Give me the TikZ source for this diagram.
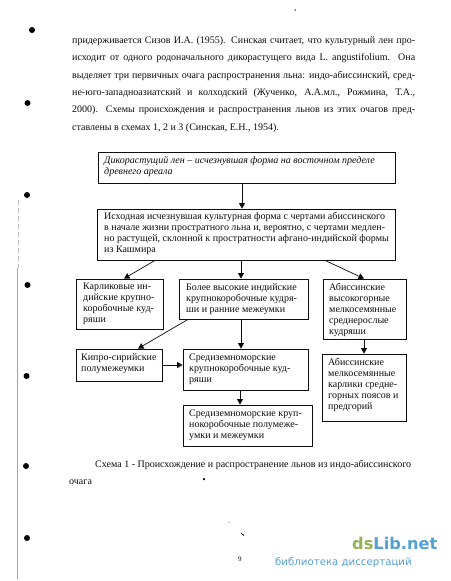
\documentclass[tikz,border=0pt]{standalone}
\usepackage{fontspec}
\setmainfont{Liberation Serif}
\newfontfamily\wmfont{DejaVu Sans}
\usetikzlibrary{calc,arrows.meta}
\definecolor{ink}{gray}{0.05}
\definecolor{wmgreen}{RGB}{146,178,84}
\definecolor{wmblue}{RGB}{85,160,210}
\tikzset{
  x=1pt,y=-1pt,
  flowbox/.style={draw=ink,line width=0.8pt,rectangle,minimum width=0pt,minimum height=0pt,inner sep=0pt},
  flowarrow/.style={draw=ink,line width=0.7pt,-{Triangle[length=5.5pt,width=6pt]}},
  boxtext/.style={anchor=north west,inner sep=0pt,align=left,text=ink,font=\fontsize{10}{11}\selectfont},
  bodyline/.style={anchor=base west,inner sep=0pt,text=ink,font=\fontsize{10}{11}\selectfont},
  dot/.style={fill=black,draw=none,circle,inner sep=0pt,minimum size=#1},
}
\newcommand{\jl}[1]{\makebox[343pt][s]{#1}}
\begin{document}
\begin{tikzpicture}
\useasboundingbox (0,0) rectangle (450,581);
\fill[white] (0,0) rectangle (450,581);
% body text
\node[bodyline] (l1) at (72,43.5) {\jl{придерживается Сизов И.А. (1955). Синская считает, что культурный лен про-}};
\node[bodyline] (l2) at (72,60.5) {\jl{исходит от одного родоначального дикорастущего вида L. angustifolium. Она}};
\node[bodyline] (l3) at (72,78) {\jl{выделяет три первичных очага распространения льна: индо-абиссинский, сред-}};
\node[bodyline] (l4) at (72,95) {\jl{не-юго-западноазиатский и колходский (Жученко, А.А.мл., Рожмина, Т.А.,}};
\node[bodyline] (l5) at (72,112) {\jl{2000). Схемы происхождения и распространения льнов из этих очагов пред-}};
\node[bodyline] (l6) at (72,130) {ставлены в схемах 1, 2 и 3 (Синская, Е.Н., 1954).};
% boxes
\node[flowbox,minimum width=297pt,minimum height=31pt] (b1) at (246.5,167.5) {};
\node[boxtext,font=\fontsize{10}{11}\selectfont\itshape] (t1) at (104,156.5) {Дикорастущий лен -- исчезнувшая форма на восточном пределе\\древнего ареала};
\node[flowbox,minimum width=298pt,minimum height=51pt] (b2) at (246.5,234.5) {};
\node[boxtext] (t2) at (104,212) {Исходная исчезнувшая культурная форма с чертами абиссинского\\в начале жизни простратного льна и, вероятно, с чертами медлен-\\но растущей, склонной к простратности афгано-индийской формы\\из Кашмира};
\node[flowbox,minimum width=87pt,minimum height=50pt] (b3) at (119.5,304) {};
\node[boxtext] (t3) at (83,283) {Карликовые ин-\\дийские крупно-\\коробочные куд-\\ряши};
\node[flowbox,minimum width=129pt,minimum height=40pt] (b4) at (243.5,299) {};
\node[boxtext] (t4) at (186,283) {Более высокие индийские\\крупнокоробочные кудря-\\ши и ранние межеумки};
\node[flowbox,minimum width=83pt,minimum height=60pt] (b5) at (364.5,309) {};
\node[boxtext] (t5) at (329,283) {Абиссинские\\высокогорные\\мелкосемянные\\среднерослые\\кудряши};
\node[flowbox,minimum width=86pt,minimum height=32pt] (b6) at (119,365) {};
\node[boxtext] (t6) at (81,353.5) {Кипро-сирийские\\полумежеумки};
\node[flowbox,minimum width=125pt,minimum height=41pt] (b7) at (245.5,369.5) {};
\node[boxtext] (t7) at (189,354) {Средиземноморские\\крупнокоробочные куд-\\ряши};
\node[flowbox,minimum width=129pt,minimum height=41pt] (b8) at (247.5,425.5) {};
\node[boxtext] (t8) at (189,409.5) {Средиземноморские круп-\\нокоробочные полумеже-\\умки и межеумки};
\node[flowbox,minimum width=84pt,minimum height=67pt] (b9) at (364,387.5) {};
\node[boxtext] (t9) at (328,358) {Абиссинские\\мелкосемянные\\карлики средне-\\горных поясов и\\предгорий};
% connectors
\draw[flowarrow] (b1.south -| 242,0) -- (b2.north -| 242,0);
\draw[flowarrow] (b2.south -| 155,0) -- (b3.north -| 124,0);
\draw[flowarrow] (b2.south -| 241,0) -- (b4.north -| 241,0);
\draw[flowarrow] (b2.south -| 325,0) -- (b5.north -| 364,0);
\draw[flowarrow] (b4.south -| 188,0) -- (b6.north -| 138,0);
\draw[flowarrow] (b4.south -| 241,0) -- (b7.north -| 241,0);
\draw[flowarrow] (b6.east) -- (b7.west |- b6.east);
\draw[flowarrow] (b7.south -| 240,0) -- (b8.north -| 240,0);
\draw[flowarrow] (b5.south -| 364,0) -- (b9.north -| 364,0);
% caption
\node[bodyline] (c1) at (95,467) {Схема 1 - Происхождение и распространение льнов из индо-абиссинского};
\node[bodyline] (c2) at (69,484) {очага};
\node[bodyline,font=\fontsize{7}{8}\selectfont] (pg) at (238,561) {9};
% watermark
\node[anchor=base west,inner sep=0pt,font=\wmfont\bfseries\fontsize{16.2}{18}\selectfont] (wm1) at (352,549) {\textcolor{wmgreen}{ds}\textcolor{wmblue}{Lib.net}};
\node[anchor=base west,inner sep=0pt,text=wmblue,font=\wmfont\fontsize{10.2}{12}\selectfont] (wm2) at (275,565) {библиотека диссертаций};
% scan marks
\draw[gray!55,line width=0.9pt,dash pattern=on 5pt off 3pt] (18,200) -- (18,268);
\fill[gray!70] (17.4,268) rectangle (18.4,579);
\node[dot=6pt] (d1) at (32,30) {};
\node[dot=6pt] (d2) at (27.5,103) {};
\node[dot=6pt] (d8) at (27,195) {};
\node[dot=6pt] (d9) at (27.5,285) {};
\node[dot=6pt] (d10) at (26.5,376) {};
\node[dot=6pt] (d3) at (26,466) {};
\node[dot=6pt] (d4) at (27,538) {};
\node[dot=2.5pt] (d5) at (204,479) {};
\node[dot=1.5pt] (d6) at (295,10) {};
\node[dot=1pt] (d7) at (229,522) {};
\draw[black,line width=0.7pt] (241,533) -- (244,535.5);
\end{tikzpicture}
\end{document}
